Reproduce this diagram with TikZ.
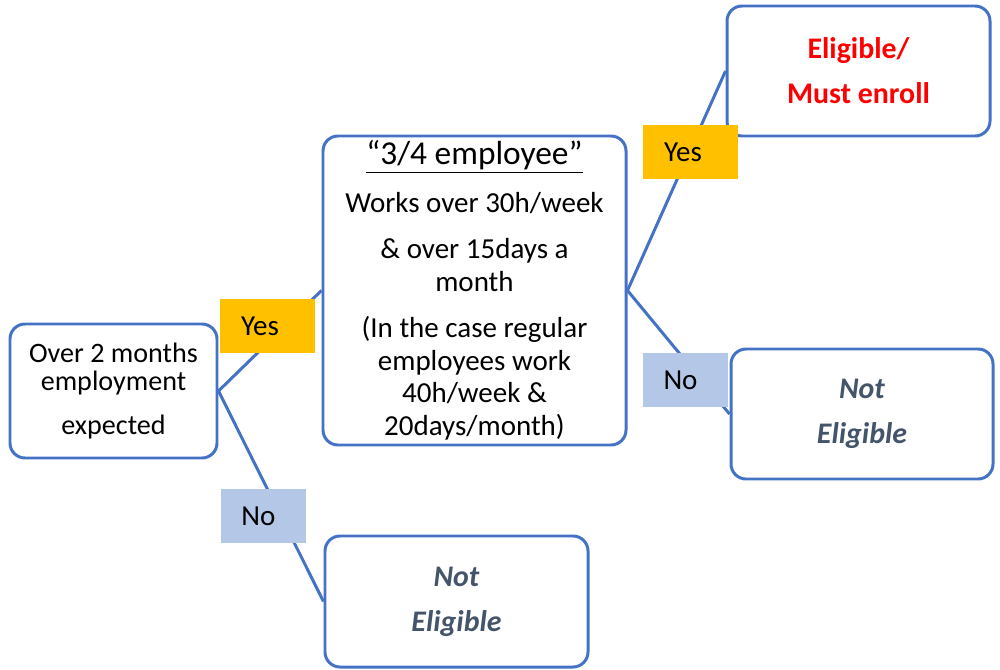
\documentclass[tikz,border=0pt]{standalone}
\usepackage{fontspec}
\setmainfont{Carlito}
\usepackage{xcolor}
\usepackage{tikz}

\definecolor{lineblue}{HTML}{4472C4}
\definecolor{slate}{HTML}{44546A}
\definecolor{yesgold}{HTML}{FFC000}
\definecolor{nolight}{HTML}{B4C7E7}

\begin{document}
\begin{tikzpicture}[inner sep=0pt,
  box/.style={draw=lineblue,line width=1.7pt,rounded corners=0.3cm,fill=white,align=center},
  yeslabel/.style={fill=yesgold,minimum width=1.9cm,minimum height=1.08cm,font=\fontsize{16.5}{19}\selectfont},
  nolabel/.style={fill=nolight,minimum width=1.7cm,minimum height=1.08cm,font=\fontsize{16.5}{19}\selectfont},
  link/.style={draw=lineblue,line width=1.7pt}]
\useasboundingbox (0,0) rectangle (20,13.38);
\node[box,minimum width=4.14cm,minimum height=2.68cm,font=\fontsize{16}{16.5}\selectfont] (start) at (2.27,5.56) {Over 2 months\\employment\\[0.3cm]expected};
\node[box,minimum width=6.06cm,minimum height=6.18cm,font=\fontsize{16.5}{18.5}\selectfont] (quarter) at (9.49,7.57) {{\fontsize{19}{20}\selectfont\underline{“3/4 employee”}}\\[0.3cm]Works over 30h/week\\[0.28cm]\& over 15days a\\month\\[0.28cm](In the case regular\\employees work\\40h/week \&\\20days/month)};
\node[box,minimum width=5.26cm,minimum height=2.6cm,text=red,font=\fontsize{17}{20}\bfseries] (enroll) at (17.17,11.96) {Eligible/\\[0.2cm]Must enroll};
\node[box,minimum width=5.24cm,minimum height=2.6cm,text=slate,font=\fontsize{17}{20}\bfseries\itshape] (notB) at (17.24,5.10) {Not\\[0.2cm]Eligible};
\node[box,minimum width=5.26cm,minimum height=2.62cm,text=slate,font=\fontsize{17}{20}\bfseries\itshape] (notA) at (9.13,1.35) {Not\\[0.2cm]Eligible};
\path[link] (start.east) -- (quarter.west);
\path[link] (start.east) -- (notA.west);
\path[link] (quarter.east) -- (enroll.west);
\path[link] (quarter.east) -- (notB.west);
\node[yeslabel] (yesA) at (5.35,6.86) {\hspace*{-0.3cm}Yes};
\node[nolabel] (noA) at (5.27,3.06) {\hspace*{-0.2cm}No};
\node[yeslabel] (yesB) at (13.81,10.34) {\hspace*{-0.3cm}Yes};
\node[nolabel] (noB) at (13.71,5.78) {\hspace*{-0.2cm}No};
\end{tikzpicture}
\end{document}
